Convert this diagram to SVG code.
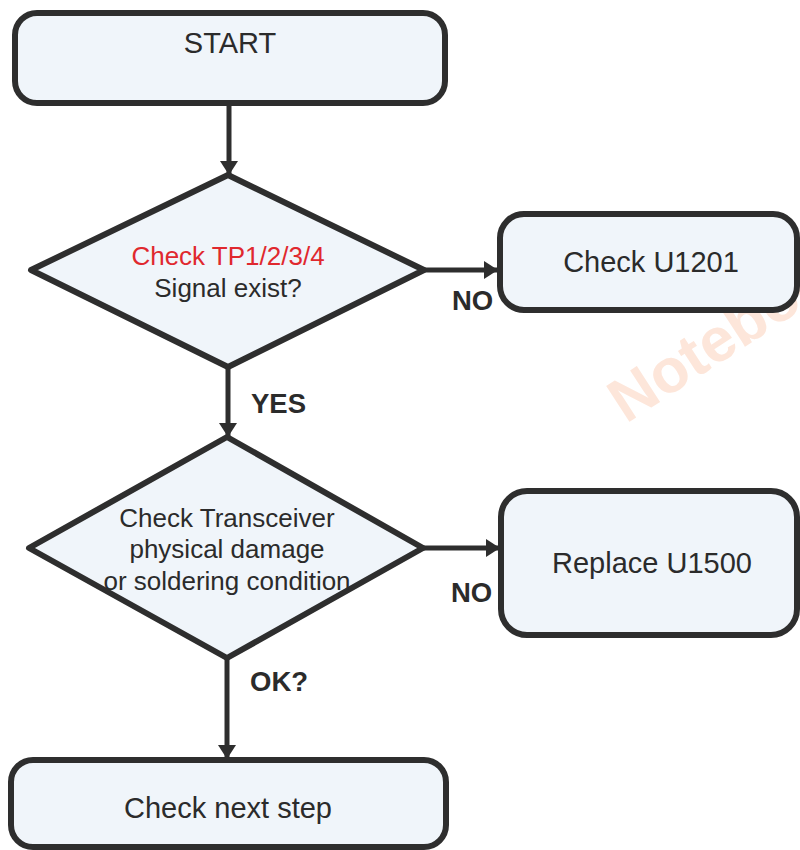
<svg xmlns="http://www.w3.org/2000/svg" width="800" height="850" viewBox="0 0 800 850">
<defs>
<style>
.box{fill:#f0f5fa;stroke:#2e2e2e;stroke-width:6;stroke-linejoin:round}
.t{font-family:"Liberation Sans",Arial,sans-serif;fill:#2b2b2b;text-anchor:middle}
.bt{font-size:29px}
.dt{font-size:26px}
.lbl{font-family:"Liberation Sans",Arial,sans-serif;fill:#2b2b2b;font-weight:bold;font-size:27.5px}
.edge{stroke:#2e2e2e;stroke-width:5;fill:none}
</style>
<marker id="arr" viewBox="0 0 14 18" refX="13" refY="9" markerWidth="14" markerHeight="18" markerUnits="userSpaceOnUse" orient="auto">
<path d="M0,0 L14,9 L0,18 Z" fill="#2e2e2e"/>
</marker>
</defs>
<rect width="800" height="850" fill="#ffffff"/>
<text x="626" y="424" transform="rotate(-33 626 424)" font-family="'Liberation Sans',Arial,sans-serif" font-weight="bold" font-size="62" fill="#fde6da">Notebook</text>
<g id="connectors">
<line class="edge" x1="229" y1="104" x2="229" y2="174" marker-end="url(#arr)"/>
<line class="edge" x1="424" y1="270" x2="497" y2="270" marker-end="url(#arr)"/>
<line class="edge" x1="228" y1="367" x2="228" y2="436" marker-end="url(#arr)"/>
<line class="edge" x1="423" y1="548" x2="499" y2="548" marker-end="url(#arr)"/>
<line class="edge" x1="227" y1="658" x2="227" y2="758" marker-end="url(#arr)"/>
<text class="lbl" x="452" y="310">NO</text>
<text class="lbl" x="251" y="413">YES</text>
<text class="lbl" x="451" y="602">NO</text>
<text class="lbl" x="250" y="691">OK?</text>
</g>
<g id="start">
<rect class="box" x="15" y="13" width="430" height="90" rx="22"/>
<text class="t bt" x="230" y="53">START</text>
</g>
<g id="decision1">
<polygon class="box" points="228,175 424,270 228,367 31,270"/>
<text class="t dt" x="228" y="265" style="fill:#e0282e">Check TP1/2/3/4</text>
<text class="t dt" x="228" y="297">Signal exist?</text>
</g>
<g id="checkU1201">
<rect class="box" x="500" y="214" width="297" height="96" rx="24"/>
<text class="t bt" x="651" y="272">Check U1201</text>
</g>
<g id="decision2">
<polygon class="box" points="227,437 423,548 227,658 29,548"/>
<text class="t dt" x="227" y="527">Check Transceiver</text>
<text class="t dt" x="227" y="558">physical damage</text>
<text class="t dt" x="227" y="590">or soldering condition</text>
</g>
<g id="replaceU1500">
<rect class="box" x="501" y="491" width="296" height="144" rx="26"/>
<text class="t bt" x="652" y="573">Replace U1500</text>
</g>
<g id="nextstep">
<rect class="box" x="11" y="760" width="435" height="87" rx="22"/>
<text class="t bt" x="228" y="818">Check next step</text>
</g>
</svg>
